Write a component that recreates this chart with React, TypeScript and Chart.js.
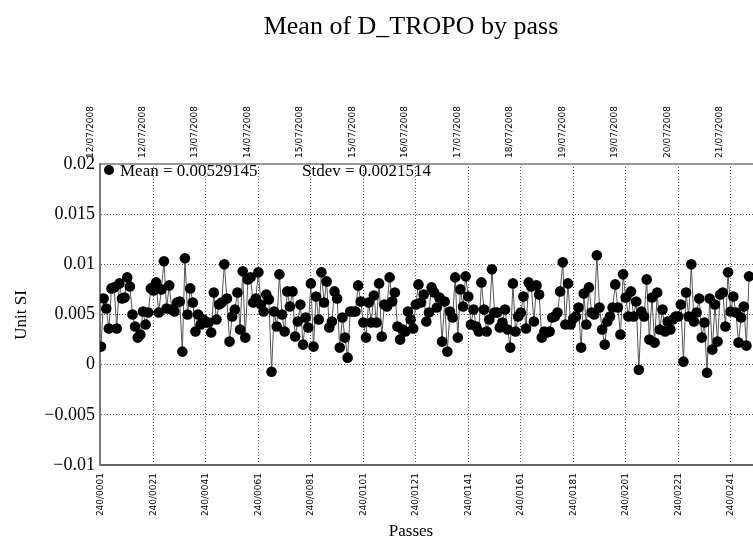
import React, { useEffect, useRef } from 'react';
import { Chart, registerables } from 'chart.js';

Chart.register(...registerables);

// Mean of D_TROPO per pass (Unit SI), passes 240/0001 ...
const passValues: number[] = [
  // passes ~1-81
  0.0018, 0.0066, 0.0056, 0.0036, 0.0076, 0.0077, 0.0036, 0.0081, 0.0066, 0.0067,
  0.0087, 0.0078, 0.0050, 0.0038, 0.0027, 0.0030, 0.0053, 0.0040, 0.0052, 0.0076,
  0.0074, 0.0082, 0.0052, 0.0075, 0.0103, 0.0056, 0.0079, 0.0055, 0.0053, 0.0062,
  0.0063, 0.0013, 0.0106, 0.0050, 0.0076, 0.0062, 0.0033, 0.0050, 0.0040, 0.0045,
  0.0042, 0.0042, 0.0032, 0.0072, 0.0045, 0.0060, 0.0062, 0.0100, 0.0066, 0.0023,
  0.0048, 0.0055, 0.0072, 0.0035, 0.0093, 0.0027, 0.0085, 0.0087, 0.0062, 0.0066,
  0.0092, 0.0060, 0.0053, 0.0070, 0.0065, -0.0007, 0.0053, 0.0038, 0.0090, 0.0050,
  0.0033, 0.0073, 0.0058, 0.0073, 0.0028, 0.0043, 0.0060, 0.0020, 0.0047, 0.0037,
  0.0081,
  // passes ~82-160
  0.0018, 0.0068, 0.0045, 0.0092, 0.0062, 0.0083, 0.0037, 0.0043, 0.0073, 0.0066,
  0.0017, 0.0047, 0.0027, 0.0007, 0.0053, 0.0053, 0.0053, 0.0079, 0.0063, 0.0042,
  0.0027, 0.0062, 0.0042, 0.0069, 0.0042, 0.0081, 0.0028, 0.0060, 0.0058, 0.0087,
  0.0063, 0.0072, 0.0038, 0.0025, 0.0035, 0.0033, 0.0053, 0.0045, 0.0036, 0.0060,
  0.0080, 0.0062, 0.0070, 0.0043, 0.0052, 0.0077, 0.0072, 0.0057, 0.0067, 0.0023,
  0.0063, 0.0013, 0.0053, 0.0047, 0.0087, 0.0027, 0.0075, 0.0058, 0.0088, 0.0068,
  0.0040, 0.0055, 0.0038, 0.0033, 0.0082, 0.0055, 0.0033, 0.0045, 0.0095, 0.0052,
  0.0052, 0.0037, 0.0042, 0.0055, 0.0035, 0.0017, 0.0081, 0.0033, 0.0048,
  // passes ~161-250
  0.0052, 0.0068, 0.0036, 0.0082, 0.0078, 0.0043, 0.0079, 0.0070, 0.0027, 0.0033,
  0.0032, 0.0033, 0.0047, 0.0048, 0.0052, 0.0073, 0.0102, 0.0040, 0.0081, 0.0040,
  0.0046, 0.0048, 0.0057, 0.0017, 0.0071, 0.0040, 0.0077, 0.0052, 0.0050, 0.0109,
  0.0057, 0.0035, 0.0020, 0.0043, 0.0048, 0.0057, 0.0080, 0.0057, 0.0030, 0.0090,
  0.0067, 0.0048, 0.0073, 0.0048, 0.0063, -0.0005, 0.0053, 0.0048, 0.0085, 0.0025,
  0.0067, 0.0022, 0.0072, 0.0035, 0.0055, 0.0033, 0.0043, 0.0035, 0.0045, 0.0048,
  0.0048, 0.0060, 0.0003, 0.0072, 0.0048, 0.0100, 0.0043, 0.0052, 0.0066, 0.0027,
  0.0042, -0.0008, 0.0066, 0.0015, 0.0060, 0.0023, 0.0070, 0.0072, 0.0038, 0.0092,
  0.0053, 0.0068, 0.0052, 0.0022, 0.0047, 0.0058, 0.0019, 0.0088,
];

const passTicks: number[] = [1, 21, 41, 61, 81, 101, 121, 141, 161, 181, 201, 221, 241, 261];
const passLabels: string[] = [
  '240/0001', '240/0021', '240/0041', '240/0061', '240/0081', '240/0101', '240/0121',
  '240/0141', '240/0161', '240/0181', '240/0201', '240/0221', '240/0241', '240/0261',
];
const dateTicks: number[] = [1, 21, 41, 61, 81, 101, 121, 141, 161, 181, 201, 221, 241];
const dateLabels: string[] = [
  '12/07/2008', '12/07/2008', '13/07/2008', '14/07/2008', '15/07/2008', '15/07/2008',
  '16/07/2008', '17/07/2008', '18/07/2008', '19/07/2008', '19/07/2008', '20/07/2008',
  '21/07/2008',
];
const yTicks: number[] = [-0.01, -0.005, 0, 0.005, 0.01, 0.015, 0.02];
const yLabels: string[] = ['\u22120.01', '\u22120.005', '0', '0.005', '0.01', '0.015', '0.02'];

const chartTitle = 'Mean of D_TROPO by pass';
const xTitle = 'Passes';
const yTitle = 'Unit SI';
const meanText = 'Mean = 0.00529145';
const stdevText = 'Stdev = 0.0021514';

const SERIF = '"Liberation Serif", "Times New Roman", serif';
const SMALL = '"DejaVu Sans", sans-serif';

const textPlugin = {
  id: 'textPlugin',
  afterDraw(chart: any) {
    const ctx = chart.ctx as CanvasRenderingContext2D;
    const area = chart.chartArea;
    ctx.save();
    ctx.fillStyle = '#000';
    ctx.textBaseline = 'middle';
    ctx.textAlign = 'center';
    ctx.font = `26px ${SERIF}`;
    ctx.fillText(chartTitle, 411, 27);
    ctx.font = `17px ${SERIF}`;
    ctx.fillText(xTitle, 411, 532);
    ctx.save();
    ctx.translate(22, 315);
    ctx.rotate(-Math.PI / 2);
    ctx.fillText(yTitle, 0, 0);
    ctx.restore();
    // legend
    ctx.beginPath();
    ctx.arc(area.left + 9, area.top + 6, 5, 0, Math.PI * 2);
    ctx.fill();
    ctx.textAlign = 'left';
    ctx.font = `17px ${SERIF}`;
    ctx.fillText(meanText, area.left + 20, area.top + 8);
    ctx.fillText(stdevText, area.left + 202, area.top + 8);
    ctx.restore();
  },
};

export default function App() {
  const ref = useRef<HTMLCanvasElement>(null);
  useEffect(() => {
    document.body.style.margin = '0';
    const canvas = ref.current!;
    const data = passValues.map((v, i) => ({ x: i + 1, y: v }));
    const chart = new Chart(canvas, {
      type: 'line',
      data: {
        datasets: [
          {
            data,
            xAxisID: 'x',
            yAxisID: 'y',
            borderColor: '#555',
            borderWidth: 1,
            pointRadius: 5.3,
            pointBackgroundColor: '#000',
            pointBorderColor: '#000',
            pointBorderWidth: 0,
            tension: 0,
          },
        ],
      },
      options: {
        animation: false,
        responsive: false,
        devicePixelRatio: 1,
        events: [],
        layout: { padding: { left: 0, right: 10, top: 0, bottom: 0 } },
        plugins: { legend: { display: false }, tooltip: { enabled: false }, title: { display: false } },
        scales: {
          x: {
            type: 'linear',
            position: 'bottom',
            min: 0.62,
            max: 272,
            afterFit: (s: any) => { s.height = 80; },
            afterBuildTicks: (s: any) => { s.ticks = passTicks.map((v) => ({ value: v })); },
            ticks: {
              autoSkip: false,
              minRotation: 90,
              maxRotation: 90,
              padding: 8,
              color: '#000',
              font: { family: SMALL, size: 9 },
              callback: (v: any) => passLabels[passTicks.indexOf(Number(v))] ?? '',
            },
            grid: { color: '#555', lineWidth: 1, drawTicks: false },
            border: { display: true, color: '#666', width: 2, dash: [1, 2] },
          },
          x2: {
            type: 'linear',
            position: 'top',
            min: 0.62,
            max: 272,
            afterFit: (s: any) => { s.height = 164; },
            afterBuildTicks: (s: any) => { s.ticks = dateTicks.map((v) => ({ value: v })); },
            ticks: {
              autoSkip: false,
              minRotation: 90,
              maxRotation: 90,
              padding: 6,
              color: '#000',
              font: { family: SMALL, size: 9 },
              callback: (v: any) => dateLabels[dateTicks.indexOf(Number(v))] ?? '',
            },
            grid: { display: false, drawTicks: false },
            border: { display: true, color: '#999', width: 2 },
          },
          y: {
            type: 'linear',
            position: 'left',
            min: -0.01,
            max: 0.02,
            afterFit: (s: any) => { s.width = 100; },
            afterBuildTicks: (s: any) => { s.ticks = yTicks.map((v) => ({ value: v })); },
            ticks: {
              padding: 5,
              color: '#000',
              font: { family: SERIF, size: 18 },
              callback: (v: any) => {
                const i = yTicks.findIndex((t) => Math.abs(t - Number(v)) < 1e-9);
                return i >= 0 ? yLabels[i] : '';
              },
            },
            grid: { color: '#555', lineWidth: 1, drawTicks: false },
            border: { display: true, color: '#777', width: 2, dash: [1, 2] },
          },
        },
      },
      plugins: [textPlugin],
    });
    return () => chart.destroy();
  }, []);
  return (
    <div style={{ width: 753, height: 545, overflow: 'hidden', background: '#fff' }}>
      <canvas ref={ref} width={822} height={545} style={{ display: 'block', width: 822, height: 545 }} />
    </div>
  );
}
